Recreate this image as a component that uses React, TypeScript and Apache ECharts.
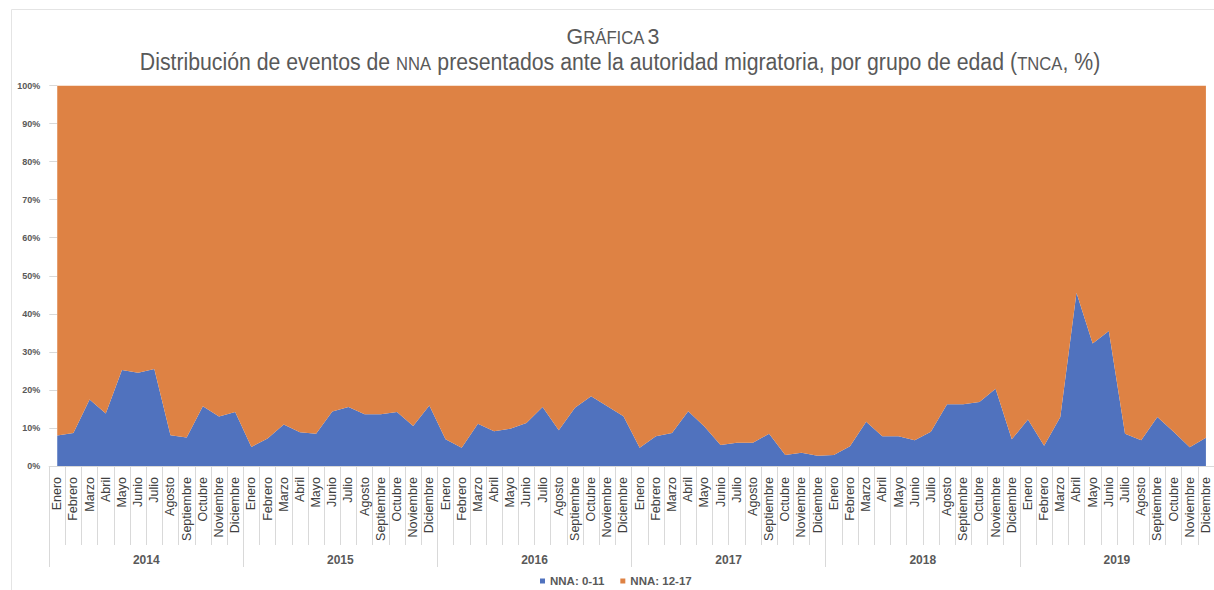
import React, { useEffect, useRef } from "react";
import * as echarts from "echarts";

const MONTHS = ["Enero", "Febrero", "Marzo", "Abril", "Mayo", "Junio", "Julio", "Agosto", "Septiembre", "Octubre", "Noviembre", "Diciembre"];
const YEARS = ["2014", "2015", "2016", "2017", "2018", "2019"];

// Share (%) of events of NNA aged 0-11, monthly
const NNA_0_11_2014 = [8.0, 8.7, 17.5, 13.8, 25.2, 24.5, 25.5, 8.1, 7.5, 15.7, 13.0, 14.2];
const NNA_0_11_2015 = [5.0, 7.2, 10.9, 8.9, 8.5, 14.3, 15.5, 13.6, 13.6, 14.2, 10.5, 15.9];
const NNA_0_11_2016 = [7.0, 4.8, 11.1, 9.1, 9.8, 11.3, 15.5, 9.4, 15.3, 18.3, 15.7, 13.1];
const NNA_0_11_2017 = [4.8, 7.8, 8.7, 14.4, 10.4, 5.5, 6.1, 6.1, 8.5, 2.9, 3.5, 2.7];
const NNA_0_11_2018 = [2.9, 5.2, 11.6, 7.8, 7.8, 6.8, 9.0, 16.2, 16.2, 16.8, 20.3, 7.0];
const NNA_0_11_2019 = [12.2, 5.3, 12.9, 45.5, 32.2, 35.5, 8.5, 6.8, 12.9, 9.0, 4.9, 7.4];

const Y_TICKS = [0, 10, 20, 30, 40, 50, 60, 70, 80, 90, 100];
const SERIES_NAMES = ["NNA: 0-11", "NNA: 12-17"];

const NNA_0_11 = [
  ...NNA_0_11_2014,
  ...NNA_0_11_2015,
  ...NNA_0_11_2016,
  ...NNA_0_11_2017,
  ...NNA_0_11_2018,
  ...NNA_0_11_2019,
];
const NNA_12_17 = NNA_0_11.map((v) => Math.round((100 - v) * 10) / 10);
const CATEGORIES = YEARS.flatMap((y) => MONTHS.map((m) => `${y}|${m}`));

const FONT = "'Liberation Sans', Arial, sans-serif";
const BLUE = "#5072BE";
const ORANGE = "#DE8244";

export default function App() {
  const ref = useRef<HTMLDivElement>(null);
  useEffect(() => {
    if (!ref.current) return;
    const chart = echarts.init(ref.current, undefined, { renderer: "svg" });
    const gridLeft = 49.15;
    const gridTop = 85.5;
    const gridBottomY = 466;
    const gridWidth = 1172.6;
    chart.setOption({
      animation: false,
      textStyle: { fontFamily: FONT },
      color: [BLUE, ORANGE],
      graphic: [
        { type: "line", shape: { x1: 11.5, y1: 9.5, x2: 1214, y2: 9.5 }, style: { stroke: "#e4e4e4", lineWidth: 1 } },
        { type: "line", shape: { x1: 11.5, y1: 9.5, x2: 11.5, y2: 590 }, style: { stroke: "#e4e4e4", lineWidth: 1 } },
        {
          type: "text",
          x: 613,
          y: 36,
          scaleX: 0.93,
          style: {
            x: 0,
            y: 0,
            text: "{a|G}{b|RÁFICA} {a|3}",
            align: "center",
            verticalAlign: "middle",
            fill: "#595959",
            rich: {
              a: { fontSize: 23, fontFamily: FONT, fill: "#595959" },
              b: { fontSize: 18, fontFamily: FONT, fill: "#595959", padding: [4, 0, 0, 0] },
            },
          },
        },
        {
          type: "text",
          x: 620,
          y: 62,
          scaleX: 0.924,
          style: {
            x: 0,
            y: 0,
            text: "{a|Distribución de eventos de }{b|NNA}{a| presentados ante la autoridad migratoria, por grupo de edad (}{b|TNCA}{a|, %)}",
            align: "center",
            verticalAlign: "middle",
            fill: "#595959",
            rich: {
              a: { fontSize: 23, fontFamily: FONT, fill: "#595959" },
              b: { fontSize: 18, fontFamily: FONT, fill: "#595959", padding: [4, 0, 0, 0] },
            },
          },
        },
      ],
      legend: {
        data: SERIES_NAMES,
        left: 540,
        top: 575,
        icon: "rect",
        itemWidth: 5,
        itemHeight: 5,
        itemGap: 16,
        padding: 0,
        textStyle: { fontFamily: FONT, fontSize: 11.5, fontWeight: "bold", color: "#595959" },
      },
      grid: { left: gridLeft, top: gridTop, width: gridWidth, height: gridBottomY - gridTop, containLabel: false },
      xAxis: [
        {
          type: "category",
          data: CATEGORIES,
          boundaryGap: true,
          position: "bottom",
          axisLine: { show: true, lineStyle: { color: "#d9d9d9", width: 1 } },
          axisTick: { show: true, interval: 0, length: 79, lineStyle: { color: "#d9d9d9" } },
          axisLabel: {
            interval: 0,
            rotate: 90,
            margin: 11,
            fontSize: 12.5,
            color: "#404040",
            fontFamily: FONT,
            formatter: (v: string) => v.split("|")[1],
          },
          splitLine: { show: false },
        },
        {
          type: "category",
          data: YEARS,
          boundaryGap: true,
          position: "bottom",
          offset: 0,
          axisLine: { show: false },
          axisTick: { show: true, interval: 0, length: 101, lineStyle: { color: "#d9d9d9" } },
          axisLabel: { interval: 0, margin: 88, fontSize: 12, fontWeight: "bold", color: "#595959", fontFamily: FONT },
          splitLine: { show: false },
        },
      ],
      yAxis: {
        type: "value",
        min: Y_TICKS[0],
        max: Y_TICKS[Y_TICKS.length - 1],
        interval: Y_TICKS[1] - Y_TICKS[0],
        offset: -8.15,
        axisLine: { show: false },
        axisTick: { show: true, length: 8, lineStyle: { color: "#d9d9d9" } },
        axisLabel: { margin: 17, fontSize: 9, fontWeight: "bold", color: "#595959", fontFamily: FONT, formatter: "{value}%" },
        splitLine: { show: false },
      },
      series: [
        {
          name: SERIES_NAMES[0],
          type: "line",
          stack: "total",
          data: NNA_0_11,
          symbol: "none",
          lineStyle: { width: 0 },
          areaStyle: { color: BLUE, opacity: 1 },
          itemStyle: { color: BLUE },
        },
        {
          name: SERIES_NAMES[1],
          type: "line",
          stack: "total",
          data: NNA_12_17,
          symbol: "none",
          lineStyle: { width: 0 },
          areaStyle: { color: ORANGE, opacity: 1 },
          itemStyle: { color: ORANGE },
        },
      ],
    });
    return () => chart.dispose();
  }, []);
  return <div ref={ref} style={{ position: "absolute", left: 0, top: 0, width: 1214, height: 590 }} />;
}
